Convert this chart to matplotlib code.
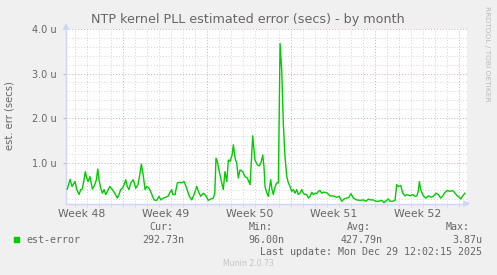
import matplotlib
matplotlib.use("Agg")
import matplotlib.pyplot as plt
import numpy as np

# ---- data: time in days relative to Mon Dec 29 00:00, value in microseconds ----
days = [-32.67, -32.44, -32.28, -32.17, -32.03, -31.88, -31.69, -31.55, -31.42, -31.28,
        -31.17, -31.05, -30.94, -30.78, -30.58, -30.38, -30.25, -30.13, -30.03, -29.88,
        -29.75, -29.61, -29.47, -29.33, -29.13, -28.92, -28.72, -28.50, -28.36, -28.22,
        -28.08, -27.94, -27.80, -27.67, -27.53, -27.38, -27.17, -26.97, -26.78, -26.61,
        -26.50, -26.33, -26.19, -26.05, -25.86, -25.67, -25.44, -25.22, -25.03, -24.88,
        -24.67, -24.47, -24.28, -24.11, -23.97, -23.88, -23.69, -23.50, -23.33, -23.13,
        -22.94, -22.72, -22.50, -22.30, -22.11, -21.88, -21.75, -21.55, -21.33, -21.11,
        -20.92, -20.72, -20.50, -20.38, -20.28, -20.17, -20.00, -19.80, -19.67, -19.53,
        -19.38, -19.25, -19.11, -18.94, -18.83, -18.69, -18.55, -18.42, -18.28, -18.05,
        -17.86, -17.67, -17.44, -17.30, -17.22, -17.11, -17.03, -16.83, -16.67, -16.53,
        -16.38, -16.28, -16.19, -16.05, -15.92, -15.72, -15.61, -15.50, -15.36, -15.22,
        -15.08, -14.94, -14.80, -14.67, -14.53, -14.38, -14.25, -14.11, -13.97, -13.83,
        -13.69, -13.55, -13.42, -13.28, -13.13, -13.00, -12.86, -12.72, -12.58, -12.44,
        -12.30, -12.17, -12.03, -11.88, -11.75, -11.61, -11.47, -11.33, -11.19, -11.00,
        -10.78, -10.50, -10.22, -10.00, -9.80, -9.61, -9.38, -9.19, -9.03, -8.83,
        -8.55, -8.28, -8.00, -7.78, -7.58, -7.38, -7.17, -6.97, -6.75, -6.47,
        -6.28, -6.05, -5.92, -5.78, -5.55, -5.36, -5.22, -5.08, -4.88, -4.72,
        -4.53, -4.33, -4.11, -3.88, -3.69, -3.55, -3.42, -3.33, -3.22, -3.00,
        -2.78, -2.58, -2.38, -2.17, -1.94, -1.75, -1.55, -1.38, -1.19, -1.00,
        -0.78, -0.55, -0.36, -0.17, 0.00, 0.12, 0.28, 0.47]
est_error = [0.42, 0.64, 0.48, 0.53, 0.59, 0.41, 0.30, 0.41, 0.42, 0.63,
             0.81, 0.67, 0.59, 0.70, 0.42, 0.52, 0.63, 0.87, 0.63, 0.44,
             0.33, 0.41, 0.30, 0.37, 0.48, 0.41, 0.33, 0.22, 0.30, 0.41,
             0.44, 0.52, 0.63, 0.48, 0.41, 0.56, 0.63, 0.44, 0.52, 0.78,
             0.98, 0.70, 0.41, 0.48, 0.44, 0.33, 0.18, 0.17, 0.26, 0.18,
             0.22, 0.24, 0.26, 0.35, 0.41, 0.30, 0.30, 0.56, 0.57, 0.56,
             0.59, 0.44, 0.26, 0.18, 0.30, 0.48, 0.37, 0.26, 0.33, 0.27,
             0.17, 0.20, 0.22, 0.33, 1.11, 1.04, 0.81, 0.56, 0.41, 0.81,
             0.59, 1.07, 1.04, 1.18, 1.41, 1.11, 1.00, 0.67, 0.85, 0.81,
             0.70, 0.67, 0.52, 1.22, 1.61, 1.30, 1.07, 0.96, 0.94, 1.01,
             1.18, 0.92, 0.47, 0.34, 0.26, 0.63, 0.41, 0.30, 0.47, 0.56,
             0.56, 3.67, 3.07, 1.89, 1.15, 0.70, 0.56, 0.48, 0.37, 0.41,
             0.33, 0.41, 0.30, 0.33, 0.41, 0.33, 0.30, 0.30, 0.22, 0.26,
             0.35, 0.30, 0.33, 0.32, 0.37, 0.39, 0.33, 0.35, 0.35, 0.33,
             0.27, 0.27, 0.24, 0.26, 0.15, 0.20, 0.22, 0.24, 0.32, 0.22,
             0.18, 0.17, 0.18, 0.15, 0.20, 0.18, 0.18, 0.15, 0.15, 0.17,
             0.12, 0.17, 0.20, 0.15, 0.15, 0.17, 0.52, 0.48, 0.50, 0.33,
             0.27, 0.30, 0.27, 0.30, 0.26, 0.27, 0.37, 0.59, 0.41, 0.27,
             0.22, 0.27, 0.24, 0.26, 0.33, 0.30, 0.22, 0.27, 0.35, 0.39,
             0.37, 0.39, 0.33, 0.27, 0.24, 0.20, 0.27, 0.33]

week_labels = ["Week 48", "Week 49", "Week 50", "Week 51", "Week 52"]
week_centers = [-31.5, -24.5, -17.5, -10.5, -3.5]
week_starts = [-28, -21, -14, -7, 0]
y_major = [1.0, 2.0, 3.0, 4.0]
y_labels = ["1.0 u", "2.0 u", "3.0 u", "4.0 u"]

legend_name = "est-error"
stat_headers = ["Cur:", "Min:", "Avg:", "Max:"]
stat_values = ["292.73n", "96.00n", "427.79n", "3.87u"]
last_update = "Last update: Mon Dec 29 12:02:15 2025"

BACK = "#F0F0F0"
FONT = "#666666"
AXIS = "#CFD6F8"
GRID = "#D4D4D4"
MGRID = "#DDAAAA"
LINE = "#00CC00"

W, H = 497, 275
fig = plt.figure(figsize=(W / 100, H / 100), dpi=100, facecolor=BACK)

def fx(px):
    return px / W

def fy(py):
    return 1 - py / H

left, right, top, bottom = 66, 467, 28.7, 203.5
ax = fig.add_axes([fx(left), fy(bottom), (right - left) / W, (bottom - top) / H])
ax.set_facecolor("white")
ax.set_xlim(-32.78, 0.64)
ax.set_ylim(0.10, 4.0)

# grid
minor_days = np.arange(-32, 1, 1)
for d in minor_days:
    if d in week_starts:
        continue
    ax.axvline(d, color=GRID, lw=0.7, ls=(0, (1, 2)), zorder=1)
for d in week_starts:
    ax.axvline(d, color=MGRID, lw=0.7, ls=(0, (1, 2)), zorder=1)
for v in np.arange(0.2, 4.01, 0.2):
    if abs(v - round(v)) < 1e-6:
        continue
    ax.axhline(v, color=GRID, lw=0.7, ls=(0, (1, 2)), zorder=1)
for v in y_major:
    ax.axhline(v, color=MGRID, lw=0.7, ls=(0, (1, 2)), zorder=1)

ax.plot(days, est_error, color=LINE, lw=1.0, zorder=3)

for s in ["top", "right"]:
    ax.spines[s].set_visible(False)
for s in ["left", "bottom"]:
    ax.spines[s].set_color(AXIS)
    ax.spines[s].set_linewidth(1.0)

ax.set_yticks(y_major)
ax.set_yticklabels(y_labels, fontsize=7, color=FONT, family="DejaVu Sans")
ax.tick_params(axis="y", length=2, color=MGRID, pad=5)
ax.set_xticks(week_centers)
ax.set_xticklabels(week_labels, fontsize=7.8, color=FONT, family="DejaVu Sans")
ax.tick_params(axis="x", length=0, pad=4)
ax.set_xticks(week_starts + [d for d in minor_days if d not in week_starts], minor=True)
ax.tick_params(axis="x", which="minor", length=2, color=GRID)

# axis arrows
ax.annotate("", xy=(0, 1.05), xytext=(0, 0.99), xycoords="axes fraction",
            arrowprops=dict(arrowstyle="-|>", color=AXIS, lw=1.0, mutation_scale=9),
            annotation_clip=False)
ax.annotate("", xy=(1.015, 0), xytext=(0.99, 0), xycoords="axes fraction",
            arrowprops=dict(arrowstyle="-|>", color=AXIS, lw=1.0, mutation_scale=9),
            annotation_clip=False)

fig.text(fx(248), fy(19.5), "NTP kernel PLL estimated error (secs) - by month",
         ha="center", va="center", fontsize=9.2, color=FONT, family="DejaVu Sans")
fig.text(fx(10), fy(116), "est. err (secs)", rotation=90, ha="center", va="center",
         fontsize=7.2, color=FONT, family="DejaVu Sans")
fig.text(fx(487), fy(6), "RRDTOOL / TOBI OETIKER", rotation=270, ha="center", va="top",
         fontsize=5.4, color="#BBBBBB", family="DejaVu Sans")

# legend
mono = "DejaVu Sans Mono"
fs = 7.2
fig.patches.append(plt.Rectangle((fx(14), fy(242)), 5 / W, 5 / H, transform=fig.transFigure,
                                 color=LINE, figure=fig))
fig.text(fx(26), fy(240), legend_name, ha="left", va="center", fontsize=fs, color=FONT, family=mono)
header_right = [173, 273, 371, 470]
value_right = [184, 284, 383, 482]
for h, hx, v, vx in zip(stat_headers, header_right, stat_values, value_right):
    fig.text(fx(hx), fy(227), h, ha="right", va="center", fontsize=fs, color=FONT, family=mono)
    fig.text(fx(vx), fy(240), v, ha="right", va="center", fontsize=fs, color=FONT, family=mono)
fig.text(fx(482), fy(252), last_update, ha="right", va="center", fontsize=fs, color=FONT, family=mono)
fig.text(fx(248), fy(263), "Munin 2.0.73", ha="center", va="center", fontsize=5.6,
         color="#C4C4C4", family="DejaVu Sans")

fig.savefig("out.png", dpi=100, facecolor=BACK)
